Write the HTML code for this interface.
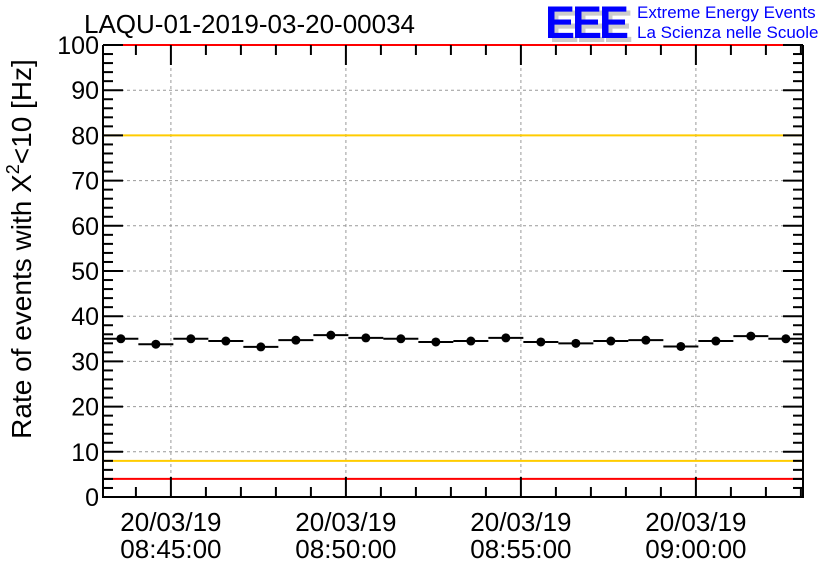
<!DOCTYPE html>
<html><head><meta charset="utf-8"><style>body{margin:0;background:#fff}svg{display:block}text{font-family:"Liberation Sans",sans-serif}</style></head>
<body>
<svg id="c" width="836" height="572"></svg>
<script>
const timeLabels=["08:45:00","08:50:00","08:55:00","09:00:00"];
const timeMajors=[0,5,10,15];
const yTicks=[0,10,20,30,40,50,60,70,80,90,100];
const binCenters=[-1.43,-0.43,0.57,1.57,2.57,3.57,4.57,5.57,6.57,7.57,8.57,9.57,10.57,11.57,12.57,13.57,14.57,15.57,16.57,17.57];
const rates=[35.0,33.8,35.0,34.5,33.2,34.7,35.8,35.2,35.0,34.3,34.5,35.2,34.3,34.0,34.5,34.7,33.3,34.5,35.6,35.0];
const limitsYellow=[8,80];
const limitsRed=[4,100];
const X0=103,X1=803,Y0=497,Y1=45,xmin=-1.94,xmax=18.06;
const sx=v=>X0+(v-xmin)/(xmax-xmin)*(X1-X0);
const sy=v=>Y0-(v/100)*(Y0-Y1);
const svg=document.getElementById('c');const NS='http://www.w3.org/2000/svg';
function mk(t,a,p){const e=document.createElementNS(NS,t);for(const k in a)e.setAttribute(k,a[k]);(p||svg).appendChild(e);return e;}
const grid=mk('g',{});
yTicks.forEach(v=>{if(v>0&&v<100)mk('line',{x1:X0,x2:X1,y1:sy(v),y2:sy(v),stroke:'#999','stroke-dasharray':'3,3','stroke-width':1},grid);});
timeMajors.forEach(v=>mk('line',{x1:sx(v),x2:sx(v),y1:Y0,y2:Y1,stroke:'#999','stroke-dasharray':'3,3','stroke-width':1},grid));
const lim=mk('g',{});
limitsYellow.forEach(v=>mk('line',{x1:X0,x2:X1,y1:sy(v),y2:sy(v),stroke:'#ffcc00','stroke-width':2},lim));
limitsRed.forEach(v=>mk('line',{x1:X0,x2:X1,y1:sy(v),y2:sy(v),stroke:'#ff0000','stroke-width':2},lim));
const ax=mk('g',{stroke:'#000','stroke-width':2});
mk('line',{x1:X0,x2:X0,y1:Y0+1,y2:Y1},ax);mk('line',{x1:X0-1,x2:X1+1,y1:Y0,y2:Y0},ax);mk('line',{x1:X1,x2:X1,y1:Y0,y2:Y1},ax);
for(let v=0;v<=100;v+=2){const L=v%10==0?20:10;mk('line',{x1:X0,x2:X0+L,y1:sy(v),y2:sy(v)},ax);mk('line',{x1:X1,x2:X1-L,y1:sy(v),y2:sy(v)},ax);}
for(let m=-1;m<=18;m++){const L=m%5==0?20:10;mk('line',{x1:sx(m),x2:sx(m),y1:Y0,y2:Y0-L},ax);mk('line',{x1:sx(m),x2:sx(m),y1:Y1,y2:Y1+L},ax);}
const yl=mk('g',{'font-size':25,'text-anchor':'end'});
yTicks.forEach(v=>{const t=mk('text',{x:X0-4,y:sy(v)+9},yl);t.textContent=v;});
const xl=mk('g',{'font-size':26,'text-anchor':'middle'});
timeMajors.forEach((v,i)=>{let t=mk('text',{x:sx(v),y:531},xl);t.textContent='20/03/19';t=mk('text',{x:sx(v),y:558},xl);t.textContent=timeLabels[i];});
const pts=mk('g',{});
binCenters.forEach((c,i)=>{mk('line',{x1:sx(c-0.5),x2:sx(c+0.5),y1:sy(rates[i]),y2:sy(rates[i]),stroke:'#000','stroke-width':2},pts);mk('circle',{cx:sx(c),cy:sy(rates[i]),r:4.5,fill:'#000'},pts);});
</script>
<svg width="836" height="572" style="position:absolute;left:0;top:0;pointer-events:none">
<text transform="translate(31,249) rotate(-90)" text-anchor="middle" font-size="28" font-family="Liberation Sans, sans-serif">Rate of events with X<tspan font-size="18" dy="-12">2</tspan><tspan dy="12">&lt;10 [Hz]</tspan></text>
</svg>
<div style="position:absolute;left:0;top:0;width:836px;height:572px;pointer-events:none">
<div style="position:absolute;left:84px;top:9px;font:26px 'Liberation Sans',sans-serif">LAQU-01-2019-03-20-00034</div>
<div style="position:absolute;left:545px;top:1px;font:bold 45px 'Liberation Sans',sans-serif;color:#0000ff;letter-spacing:-3px;text-shadow:4px 4px 0 #ccc;line-height:44px">EEE</div>
<div style="position:absolute;left:637px;top:3px;font:17px 'Liberation Sans',sans-serif;color:#0000ff;line-height:20px">Extreme Energy Events<br>La Scienza nelle Scuole</div>
</div>
</body></html>
